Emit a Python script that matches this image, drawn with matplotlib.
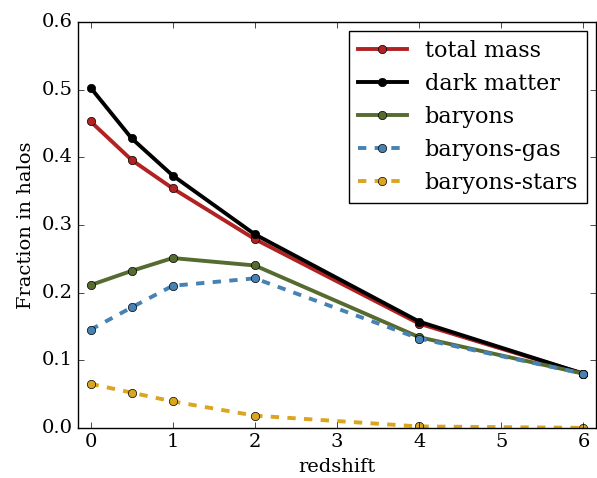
import matplotlib
matplotlib.use('Agg')
import matplotlib.pyplot as plt

plt.style.use('classic')
plt.rcParams['font.family'] = 'DejaVu Serif'

redshift = [0, 0.5, 1, 2, 4, 6]
total_mass = [0.453, 0.396, 0.354, 0.279, 0.154, 0.080]
dark_matter = [0.503, 0.428, 0.373, 0.286, 0.157, 0.080]
baryons = [0.211, 0.232, 0.251, 0.240, 0.134, 0.080]
baryons_gas = [0.145, 0.178, 0.210, 0.221, 0.132, 0.080]
baryons_stars = [0.065, 0.052, 0.039, 0.018, 0.002, 0.000]

fig = plt.figure(figsize=(5.97, 4.78), dpi=100)
ax = fig.add_axes([0.131, 0.105, 0.867, 0.849])

ax.plot(redshift, total_mass, '-o', color='#b22222', lw=2.8, ms=6,
        mec='black', label='total mass')
ax.plot(redshift, dark_matter, '-o', color='black', lw=2.8, ms=6,
        mec='black', label='dark matter')
ax.plot(redshift, baryons, '-o', color='#556b2f', lw=2.8, ms=6,
        mec='black', label='baryons')
ax.plot(redshift, baryons_gas, '--o', color='#4682b4', lw=2.8, ms=6,
        mec='black', label='baryons-gas')
ax.plot(redshift, baryons_stars, '--o', color='#daa520', lw=2.8, ms=6,
        mec='black', label='baryons-stars')

ax.set_xlim(-0.15, 6.15)
ax.set_ylim(0, 0.6)
ax.set_xlabel('redshift', fontsize=14)
ax.set_ylabel('Fraction in halos', fontsize=14)
ax.tick_params(labelsize=14)
ax.legend(loc='upper right', fontsize=16, numpoints=1, handlelength=2.2,
          labelspacing=0.5, borderaxespad=0.4)

fig.savefig('out.png', dpi=100)
